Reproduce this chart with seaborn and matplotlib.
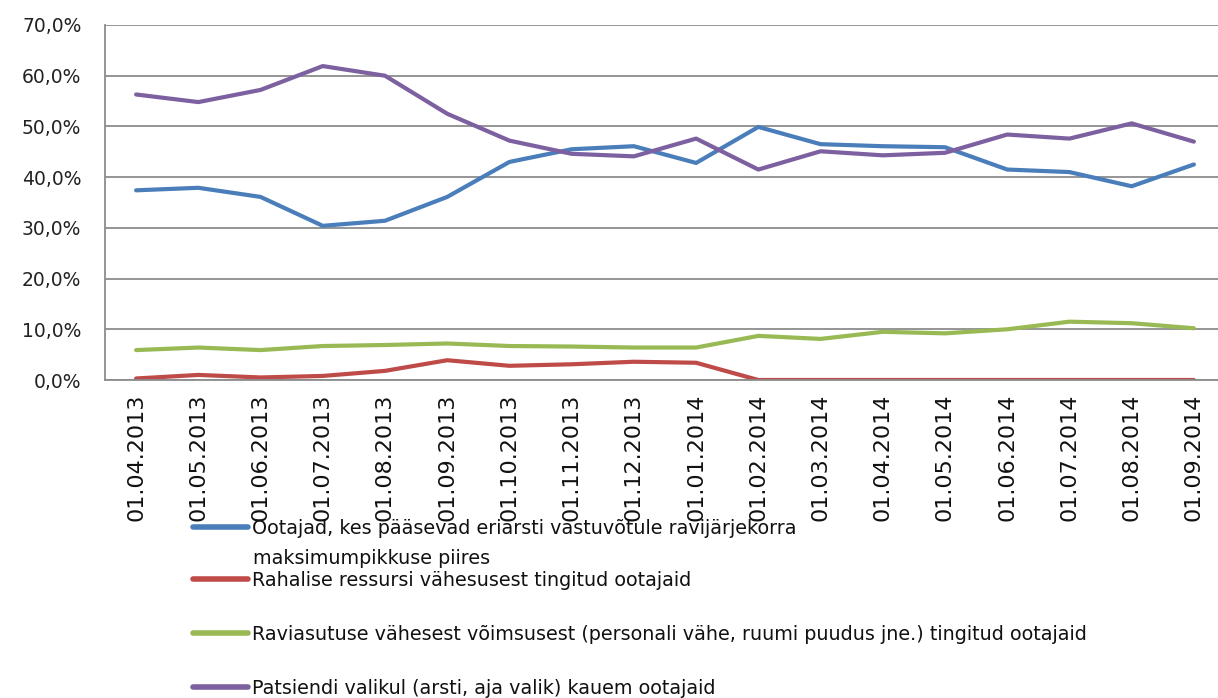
import matplotlib
matplotlib.use("Agg")
import matplotlib.pyplot as plt
import seaborn as sns
import pandas as pd
from matplotlib.lines import Line2D

dates = ["01.04.2013", "01.05.2013", "01.06.2013", "01.07.2013", "01.08.2013", "01.09.2013",
         "01.10.2013", "01.11.2013", "01.12.2013", "01.01.2014", "01.02.2014", "01.03.2014",
         "01.04.2014", "01.05.2014", "01.06.2014", "01.07.2014", "01.08.2014", "01.09.2014"]

blue = [37.4, 37.9, 36.1, 30.4, 31.4, 36.1, 43.0, 45.5, 46.1, 42.8, 49.9, 46.5,
        46.1, 45.9, 41.5, 41.0, 38.2, 42.5]
red = [0.3, 1.0, 0.5, 0.8, 1.8, 3.9, 2.8, 3.1, 3.6, 3.4, 0.0, 0.0,
       0.0, 0.0, 0.0, 0.0, 0.0, 0.0]
green = [5.9, 6.4, 5.9, 6.7, 6.9, 7.2, 6.7, 6.6, 6.4, 6.4, 8.7, 8.1,
         9.5, 9.2, 10.0, 11.5, 11.2, 10.2]
purple = [56.3, 54.8, 57.2, 61.9, 60.0, 52.5, 47.2, 44.6, 44.1, 47.6, 41.5, 45.1,
          44.3, 44.8, 48.4, 47.6, 50.6, 47.0]

series_names = [
    "Ootajad, kes pääsevad eriarsti vastuvõtule ravijärjekorra",
    "Rahalise ressursi vähesusest tingitud ootajaid",
    "Raviasutuse vähesest võimsusest (personali vähe, ruumi puudus jne.) tingitud ootajaid",
    "Patsiendi valikul (arsti, aja valik) kauem ootajaid",
]
first_label_cont = "maksimumpikkuse piires"
colors = ["#4A7EBB", "#BE4B48", "#98B954", "#7D60A0"]

ytick_vals = [0, 10, 20, 30, 40, 50, 60, 70]
ytick_labels = ["0,0%", "10,0%", "20,0%", "30,0%", "40,0%", "50,0%", "60,0%", "70,0%"]

rows = []
for name, vals in zip(series_names, [blue, red, green, purple]):
    for i, v in enumerate(vals):
        rows.append({"idx": i, "value": v, "series": name})
df = pd.DataFrame(rows)

sns.set_theme(style="white")
plt.rcParams['font.family'] = ['DejaVu Sans']

fig = plt.figure(figsize=(12.18, 6.98), dpi=100)
ax = fig.add_axes([105 / 1218, 1 - 380 / 698, 1120 / 1218, 355 / 698])

sns.lineplot(data=df, x="idx", y="value", hue="series", hue_order=series_names,
             palette=colors, linewidth=3, ax=ax, legend=False, sort=False)

ax.set_xlim(-0.5, 17.5)
ax.set_ylim(0, 70)
ax.set_yticks(ytick_vals)
ax.set_yticklabels(ytick_labels, fontsize=13.5, color="#222222")
ax.yaxis.grid(True, color="#8c8c8c", linewidth=1.3)
ax.set_axisbelow(True)
ax.set_xlabel("")
ax.set_ylabel("")

# category labels at centres, tick marks at boundaries
ax.set_xticks(range(len(dates)))
ax.set_xticklabels(dates, rotation=90, fontsize=16, color="#111111")
ax.set_xticks([i - 0.5 for i in range(len(dates) + 1)], minor=True)
ax.tick_params(axis="x", which="major", length=0, pad=10)
ax.tick_params(axis="x", which="minor", length=7, width=1.3, color="#8c8c8c", direction="out")
ax.tick_params(axis="y", length=7, width=1.3, color="#8c8c8c", direction="out", pad=10)

for s in ["top", "right"]:
    ax.spines[s].set_visible(False)
ax.spines["left"].set_color("#8c8c8c")
ax.spines["left"].set_linewidth(1.3)
ax.spines["bottom"].set_color("#8c8c8c")
ax.spines["bottom"].set_linewidth(1.3)

# legend entries
leg_fs = 13.8
leg_y = [528, 580, 634, 688]
for name, col, y in zip(series_names, colors, leg_y):
    h = Line2D([0], [0], color=col, linewidth=4)
    fig.legend(handles=[h], labels=[name], loc="center left",
               bbox_to_anchor=(193 / 1218, 1 - y / 698), frameon=False,
               handlelength=2.87, handletextpad=0.2, borderpad=0, borderaxespad=0,
               fontsize=leg_fs, labelcolor="#111111")
fig.text(253 / 1218, 1 - 558 / 698, first_label_cont, fontsize=leg_fs, va="center",
         ha="left", color="#111111")

fig.savefig("out.png", dpi=100)
